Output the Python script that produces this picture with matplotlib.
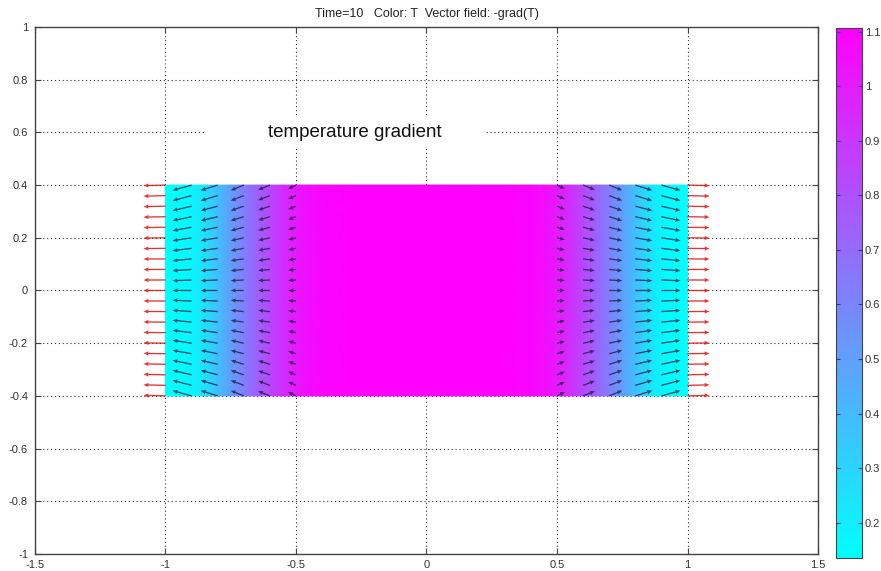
import numpy as np
import matplotlib
matplotlib.use("Agg")
import matplotlib.pyplot as plt
from matplotlib.patches import Rectangle

plt.rcParams['font.family'] = ['Liberation Sans', 'DejaVu Sans']

title_text = "Time=10   Color: T  Vector field: -grad(T)"
annot_text = "temperature gradient"

# temperature profile across the slab (uniform along y)
profile_x = [-1.0, -0.95, -0.9, -0.85, -0.8, -0.75, -0.7, -0.65, -0.6, -0.55, -0.5,
             -0.45, -0.4, -0.3, 0.0, 0.3, 0.4, 0.45, 0.5, 0.55, 0.6, 0.65, 0.7,
             0.75, 0.8, 0.85, 0.9, 0.95, 1.0]
profile_T = [0.135, 0.137, 0.174, 0.252, 0.378, 0.504, 0.621, 0.738, 0.835, 0.932, 1.010,
             1.058, 1.088, 1.105, 1.107, 1.105, 1.088, 1.058, 1.010, 0.932, 0.835, 0.738, 0.621,
             0.504, 0.378, 0.252, 0.174, 0.137, 0.135]
slab_y = [-0.4, 0.4]

# vector field -grad(T) sampled on a grid
arrow_x = [-1.0, -0.9, -0.8, -0.7, -0.6, -0.5, -0.4, -0.3, -0.2, -0.1, 0.0,
           0.1, 0.2, 0.3, 0.4, 0.5, 0.6, 0.7, 0.8, 0.9, 1.0]
arrow_y = [-0.4, -0.36, -0.32, -0.28, -0.24, -0.2, -0.16, -0.12, -0.08, -0.04, 0.0,
           0.04, 0.08, 0.12, 0.16, 0.2, 0.24, 0.28, 0.32, 0.36, 0.4]
u_col = [-0.084, -0.073, -0.065, -0.050, -0.045, -0.030, -0.008, -0.004, -0.002, -0.001, 0.0,
         0.001, 0.002, 0.004, 0.008, 0.030, 0.045, 0.050, 0.065, 0.073, 0.084]
v_row = [0.020, 0.019, 0.017, 0.015, 0.013, 0.011, 0.009, 0.007, 0.005, 0.003, 0.0,
         -0.003, -0.005, -0.007, -0.009, -0.011, -0.013, -0.015, -0.017, -0.019, -0.020]
v_col = [0.1, 1.0, 1.0, 1.0, 0.9, 0.7, 0.4, 0.2, 0.1, 0.0, 0.0,
         0.0, 0.1, 0.2, 0.4, 0.7, 0.9, 1.0, 1.0, 1.0, 0.1]

cbar_ticks = [0.2, 0.3, 0.4, 0.5, 0.6, 0.7, 0.8, 0.9, 1.0, 1.1]
cbar_labels = ["0.2", "0.3", "0.4", "0.5", "0.6", "0.7", "0.8", "0.9", "1", "1.1"]
x_ticks = [-1.5, -1.0, -0.5, 0.0, 0.5, 1.0, 1.5]
x_labels = ["-1.5", "-1", "-0.5", "0", "0.5", "1", "1.5"]
y_ticks = [-1.0, -0.8, -0.6, -0.4, -0.2, 0.0, 0.2, 0.4, 0.6, 0.8, 1.0]
y_labels = ["-1", "-0.8", "-0.6", "-0.4", "-0.2", "0", "0.2", "0.4", "0.6", "0.8", "1"]

fig = plt.figure(figsize=(8.81, 5.71), dpi=100)
ax = fig.add_axes([0.0397, 0.0298, 0.8888, 0.9229])
cax = fig.add_axes([0.949, 0.0228, 0.0295, 0.928])

PX, PY = np.meshgrid(profile_x, slab_y)
PT = np.tile(profile_T, (len(slab_y), 1))
mesh = ax.pcolormesh(PX, PY, PT, cmap='cool', shading='gouraud',
                     vmin=min(profile_T), vmax=max(profile_T), zorder=1)

AX, AY = np.meshgrid(arrow_x, arrow_y)
U = np.tile(u_col, (len(arrow_y), 1))
V = np.array(v_row)[:, None] * np.array(v_col)[None, :]
mag = np.hypot(U, V)
edge = np.zeros_like(U, dtype=bool)
edge[:, 0] = True
edge[:, -1] = True
inner = (~edge) & (mag > 0.015)

qkw = dict(angles='xy', scale_units='xy', scale=1, width=0.0017,
           headwidth=3.2, headlength=3.8, headaxislength=3.4, zorder=3)
ax.quiver(AX[inner], AY[inner], U[inner], V[inner], color='#181838', alpha=0.75, **qkw)
ax.quiver(AX[edge], AY[edge], U[edge], V[edge], color='#e01010', alpha=0.85, **qkw)

ax.add_patch(Rectangle((-0.847, 0.540), 1.073, 0.125, facecolor='white',
                       edgecolor='none', zorder=1.5))
ax.text(-0.274, 0.601, annot_text, ha='center', va='center', fontsize=13.5,
        color='#111111', zorder=4)

ax.set_xlim(-1.5, 1.5)
ax.set_ylim(-1, 1)
ax.set_xticks(x_ticks)
ax.set_xticklabels(x_labels)
ax.set_yticks(y_ticks)
ax.set_yticklabels(y_labels)
ax.set_axisbelow(True)
ax.grid(True, linestyle=(0, (1, 2.5)), color='#333333', linewidth=0.8)
ax.tick_params(direction='in', top=True, right=True, length=4, labelsize=8,
               labelcolor='#333333', color='#444444')
ax.tick_params(axis='x', pad=4)
ax.tick_params(axis='y', pad=5)
for s in ax.spines.values():
    s.set_color('#444444')
    s.set_linewidth(1.0)
ax.set_title(title_text, fontsize=9, color='#222222', pad=7)

cb = fig.colorbar(mesh, cax=cax, ticks=cbar_ticks)
cb.ax.set_yticklabels(cbar_labels)
cb.ax.tick_params(direction='in', left=True, right=True, length=3, labelsize=8,
                  labelcolor='#333333', color='#333399', pad=2)
cb.outline.set_edgecolor('#444444')

fig.savefig("out.png", dpi=100)
